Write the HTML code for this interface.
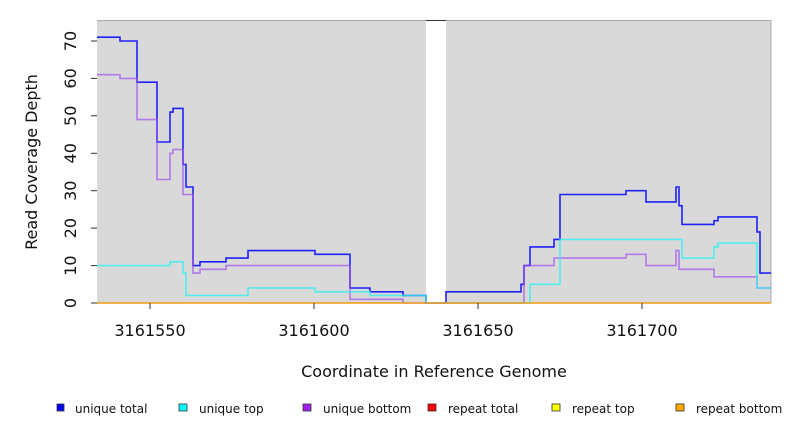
<!DOCTYPE html>
<html><head><meta charset="utf-8"><style>body{margin:0;background:#fff;width:792px;height:432px;overflow:hidden}svg text{font-family:"DejaVu Sans","Liberation Sans",sans-serif}</style></head>
<body>
<svg width="792" height="432" xmlns="http://www.w3.org/2000/svg">
<rect x="97" y="20" width="674" height="283" fill="#d9d9d9"/>
<rect x="426" y="20" width="20" height="284" fill="#fff"/>
<line x1="97" y1="20.5" x2="771" y2="20.5" stroke="#aaa"/>
<line x1="771" y1="20" x2="771" y2="303" stroke="#aaa"/>
<line x1="426" y1="20.5" x2="446" y2="20.5" stroke="#333"/>
<g fill="none" stroke-width="1.6">
<polyline stroke="#0000ff" stroke-opacity="0.85" points="97,37.2 120,37.2 120,41 137,41 137,82.2 157,82.2 157,142 170,142 170,112.1 173,112.1 173,108.4 183,108.4 183,164.5 186,164.5 186,187 193,187 193,265.6 200,265.6 200,261.8 226,261.8 226,258.1 248,258.1 248,250.6 315,250.6 315,254.3 350,254.3 350,288 370,288 370,291.8 403,291.8 403,295.5 426,295.5 426,303 446,303 446,291.8 521,291.8 521,284.3 524,284.3 524,265.6 530,265.6 530,246.9 554,246.9 554,239.4 560,239.4 560,194.5 626,194.5 626,190.7 646,190.7 646,201.9 676,201.9 676,187 679,187 679,205.7 682,205.7 682,224.4 714,224.4 714,220.7 718,220.7 718,216.9 757,216.9 757,231.9 760,231.9 760,273.1 771,273.1"/>
<polyline stroke="#a050f0" stroke-opacity="0.7" points="97,74.7 120,74.7 120,78.4 137,78.4 137,119.6 157,119.6 157,179.5 170,179.5 170,153.3 173,153.3 173,149.5 183,149.5 183,194.5 193,194.5 193,273.1 200,273.1 200,269.3 226,269.3 226,265.6 350,265.6 350,299.3 403,299.3 403,303 524,303 524,265.6 554,265.6 554,258.1 626,258.1 626,254.3 646,254.3 646,265.6 676,265.6 676,250.6 679,250.6 679,269.3 714,269.3 714,276.8 757,276.8 757,288 771,288"/>
<polyline stroke="#30f0f0" stroke-opacity="0.8" points="97,265.6 170,265.6 170,261.8 183,261.8 183,273.1 186,273.1 186,295.5 248,295.5 248,288 315,288 315,291.8 370,291.8 370,295.5 426,295.5 426,303 530,303 530,284.3 560,284.3 560,239.4 682,239.4 682,258.1 714,258.1 714,246.9 718,246.9 718,243.1 757,243.1 757,288 771,288"/>
</g>
<line x1="97" y1="303" x2="771" y2="303" stroke="#f39c12" stroke-width="1.5"/>
<g stroke="#333"><line x1="91" y1="303" x2="97" y2="303"/><line x1="91" y1="265.6" x2="97" y2="265.6"/><line x1="91" y1="228.1" x2="97" y2="228.1"/><line x1="91" y1="190.7" x2="97" y2="190.7"/><line x1="91" y1="153.3" x2="97" y2="153.3"/><line x1="91" y1="115.8" x2="97" y2="115.8"/><line x1="91" y1="78.4" x2="97" y2="78.4"/><line x1="91" y1="41" x2="97" y2="41"/>
<line x1="150" y1="303" x2="150" y2="309"/><line x1="314" y1="303" x2="314" y2="309"/><line x1="478" y1="303" x2="478" y2="309"/><line x1="642" y1="303" x2="642" y2="309"/></g>
<g font-size="16" fill="#111" text-anchor="middle">
<text transform="translate(76,303) rotate(-90)" y="0">0</text>
<text transform="translate(76,265.6) rotate(-90)">10</text>
<text transform="translate(76,228.1) rotate(-90)">20</text>
<text transform="translate(76,190.7) rotate(-90)">30</text>
<text transform="translate(76,153.3) rotate(-90)">40</text>
<text transform="translate(76,115.8) rotate(-90)">50</text>
<text transform="translate(76,78.4) rotate(-90)">60</text>
<text transform="translate(76,41) rotate(-90)">70</text>
<text x="150" y="336">3161550</text><text x="314" y="336">3161600</text><text x="478" y="336">3161650</text><text x="642" y="336">3161700</text>
<text x="434" y="377">Coordinate in Reference Genome</text>
<text transform="translate(37,162) rotate(-90)">Read Coverage Depth</text>
</g>
<g font-size="12" fill="#111" stroke="#333" stroke-width="0.8">
<rect x="57" y="404" width="7" height="7" fill="#0000ff"/><text x="75" y="413" stroke="none">unique total</text>
<rect x="179" y="404" width="8" height="7" fill="#00ffff"/><text x="199" y="413" stroke="none">unique top</text>
<rect x="303" y="404" width="8" height="7" fill="#a020f0"/><text x="323" y="413" stroke="none">unique bottom</text>
<rect x="428" y="404" width="8" height="7" fill="#ff0000"/><text x="448" y="413" stroke="none">repeat total</text>
<rect x="552" y="404" width="8" height="7" fill="#ffff00"/><text x="572" y="413" stroke="none">repeat top</text>
<rect x="676" y="404" width="8" height="7" fill="#ffa500"/><text x="696" y="413" stroke="none">repeat bottom</text>
</g>
</svg>
</body></html>
